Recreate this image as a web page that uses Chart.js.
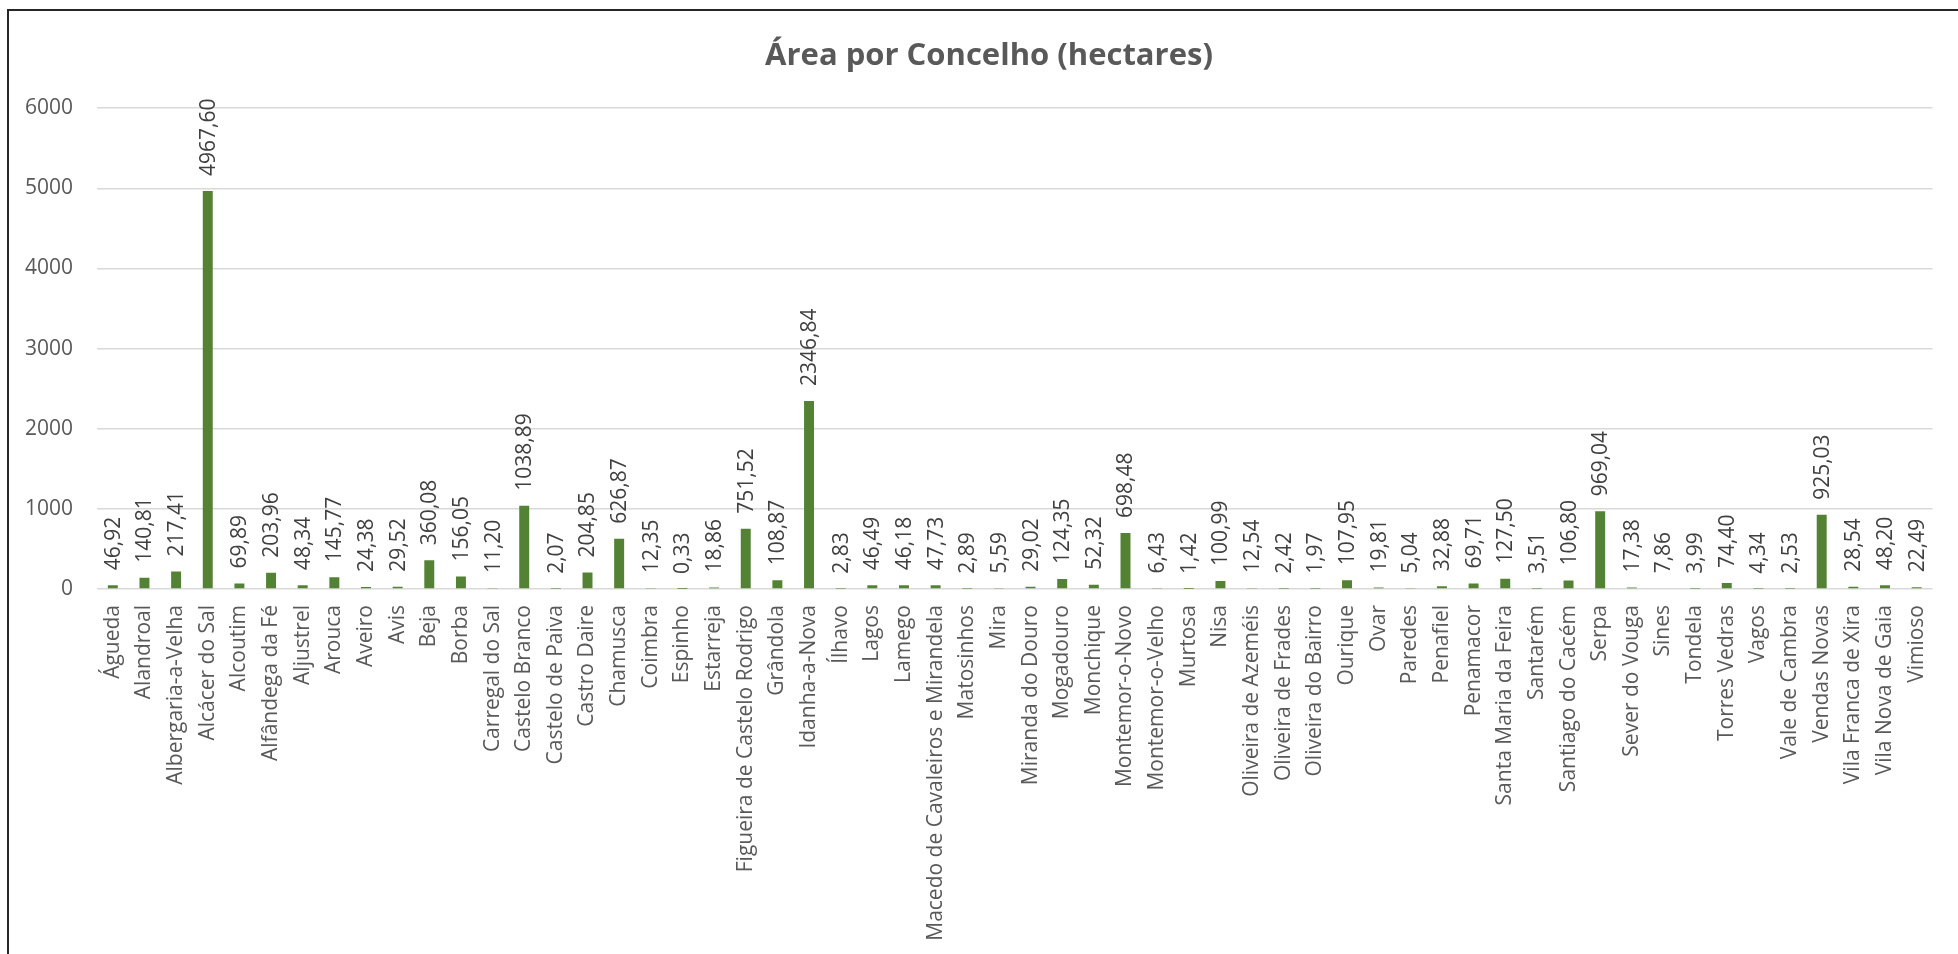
<!DOCTYPE html>
<html>
<head>
<meta charset="utf-8">
<script src="https://cdn.jsdelivr.net/npm/chart.js@4/dist/chart.umd.min.js"></script>
<style>
    body { margin: 0; background: #fff; overflow: hidden; }
    #wrap { position: relative; width: 1958px; height: 954px; }
    #frame { position: absolute; left: 7px; top: 9px; width: 3000px; height: 3000px;
             border-left: 2px solid #262626; border-top: 2px solid #262626; pointer-events: none; }
    canvas { position: absolute; left: 0; top: 0; }
</style>
</head>
<body>
<div id="wrap">
    <canvas id="myChart" width="1958" height="954"></canvas>
    <div id="frame"></div>
</div>
<script>
const chartTitle = "Área por Concelho (hectares)";

const concelhos = [
    "Águeda", "Alandroal", "Albergaria-a-Velha", "Alcácer do Sal", "Alcoutim",
    "Alfândega da Fé", "Aljustrel", "Arouca", "Aveiro", "Avis", "Beja", "Borba",
    "Carregal do Sal", "Castelo Branco", "Castelo de Paiva", "Castro Daire", "Chamusca",
    "Coimbra", "Espinho", "Estarreja", "Figueira de Castelo Rodrigo", "Grândola",
    "Idanha-a-Nova", "Ílhavo", "Lagos", "Lamego", "Macedo de Cavaleiros e Mirandela",
    "Matosinhos", "Mira", "Miranda do Douro", "Mogadouro", "Monchique",
    "Montemor-o-Novo", "Montemor-o-Velho", "Murtosa", "Nisa", "Oliveira de Azeméis",
    "Oliveira de Frades", "Oliveira do Bairro", "Ourique", "Ovar", "Paredes", "Penafiel",
    "Penamacor", "Santa Maria da Feira", "Santarém", "Santiago do Cacém", "Serpa",
    "Sever do Vouga", "Sines", "Tondela", "Torres Vedras", "Vagos", "Vale de Cambra",
    "Vendas Novas", "Vila Franca de Xira", "Vila Nova de Gaia", "Vimioso"
];

const areaHectares = [
    46.92, 140.81, 217.41, 4967.60, 69.89,
    203.96, 48.34, 145.77, 24.38, 29.52, 360.08, 156.05,
    11.20, 1038.89, 2.07, 204.85, 626.87,
    12.35, 0.33, 18.86, 751.52, 108.87,
    2346.84, 2.83, 46.49, 46.18, 47.73,
    2.89, 5.59, 29.02, 124.35, 52.32,
    698.48, 6.43, 1.42, 100.99, 12.54,
    2.42, 1.97, 107.95, 19.81, 5.04, 32.88,
    69.71, 127.50, 3.51, 106.80, 969.04,
    17.38, 7.86, 3.99, 74.40, 4.34, 2.53,
    925.03, 28.54, 48.20, 22.49
];

const yTicks = [0, 1000, 2000, 3000, 4000, 5000, 6000];

const fontFamily = "'Open Sans', 'Noto Sans', sans-serif";

// value labels, rotated, above each bar (like Excel's data labels)
const barLabels = {
    id: 'barLabels',
    afterLayout(chart) {
        // title in the original sits a bit right of the canvas centre
        chart.titleBlock.left = 38;
    },
    afterDatasetsDraw(chart) {
        const ctx = chart.ctx;
        const meta = chart.getDatasetMeta(0);
        ctx.save();
        ctx.font = `21px ${fontFamily}`;
        ctx.fillStyle = '#404040';
        ctx.textAlign = 'left';
        ctx.textBaseline = 'middle';
        meta.data.forEach((bar, i) => {
            const txt = areaHectares[i].toFixed(2).replace('.', ',');
            ctx.save();
            ctx.translate(bar.x + 1, bar.y - 15);
            ctx.rotate(-Math.PI / 2);
            ctx.fillText(txt, 0, 0);
            ctx.restore();
        });
        ctx.restore();
    }
};

const ctx = document.getElementById('myChart');

new Chart(ctx, {
    type: 'bar',
    data: {
        labels: concelhos,
        datasets: [{
            label: 'Área (ha)',
            data: areaHectares,
            backgroundColor: '#548235',
            borderWidth: 0,
            categoryPercentage: 1,
            barPercentage: 0.315
        }]
    },
    plugins: [barLabels],
    options: {
        responsive: false,
        animation: false,
        layout: { padding: { left: 0, right: 18, top: 0, bottom: 0 } },
        plugins: {
            legend: { display: false },
            tooltip: { enabled: false },
            title: {
                display: true,
                text: chartTitle,
                color: '#595959',
                font: { family: fontFamily, size: 31, weight: 'bold', lineHeight: 1.2 },
                padding: { top: 38, bottom: 33 }
            }
        },
        scales: {
            x: {
                grid: { display: false, drawTicks: false },
                border: { display: false },
                ticks: {
                    autoSkip: false,
                    minRotation: 90,
                    maxRotation: 90,
                    padding: 16,
                    color: '#595959',
                    font: { family: fontFamily, size: 21 }
                },
                afterFit: (scale) => { scale.height = 365; }
            },
            y: {
                min: 0,
                max: 6000,
                afterBuildTicks: (scale) => { scale.ticks = yTicks.map(v => ({ value: v })); },
                grid: { color: '#d9d9d9', lineWidth: 1.6, drawTicks: false },
                border: { display: false },
                ticks: {
                    padding: 24,
                    color: '#595959',
                    font: { family: fontFamily, size: 21 },
                    callback: (v) => String(v)
                },
                afterFit: (scale) => { scale.width = 97; }
            }
        }
    }
});
</script>
</body>
</html>
